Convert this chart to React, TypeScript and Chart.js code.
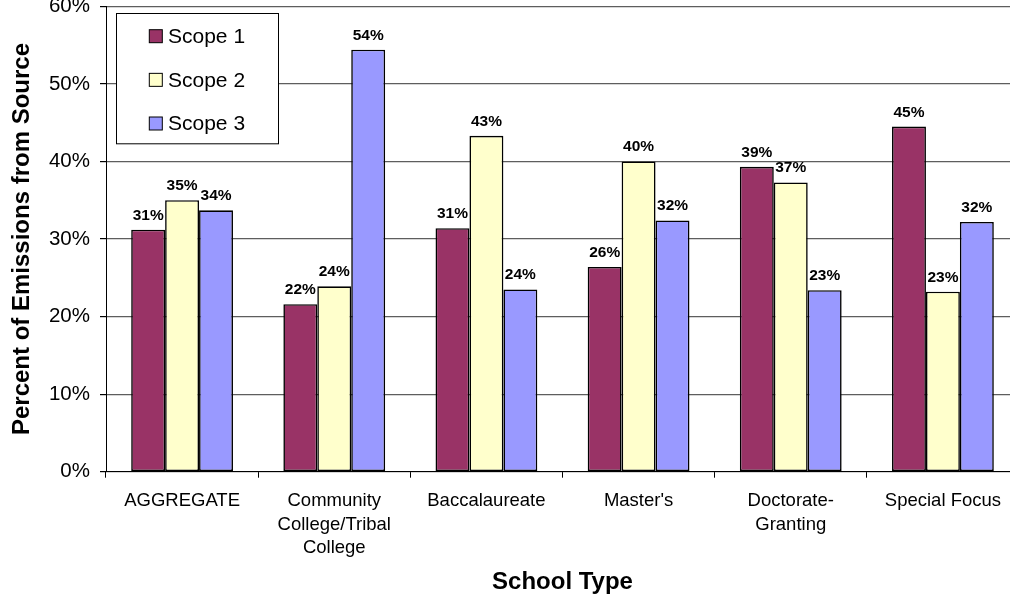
import { useEffect, useRef } from "react";
import { Chart, registerables } from "chart.js";

Chart.register(...registerables);

// Share of emissions by scope for each school type (percent)
const schoolTypes: (string | string[])[] = [
  "AGGREGATE",
  ["Community", "College/Tribal", "College"],
  "Baccalaureate",
  "Master's",
  ["Doctorate-", "Granting"],
  "Special Focus",
];
const scope1 = [31.2, 21.6, 31.4, 26.4, 39.3, 44.5];
const scope2 = [35.0, 23.9, 43.3, 40.0, 37.3, 23.2];
const scope3 = [33.7, 54.4, 23.5, 32.4, 23.4, 32.2];
const seriesNames = ["Scope 1", "Scope 2", "Scope 3"];
const seriesColors = ["#993366", "#FFFFCC", "#9999FF"];
const yMin = 0;
const yMax = 60;
const yStep = 10;

const FONT = "'Liberation Sans', Arial, Helvetica, sans-serif";

// Percent labels above each bar
const barValueLabels = {
  id: "barValueLabels",
  afterDatasetsDraw(chart: any) {
    const { ctx } = chart;
    ctx.save();
    ctx.font = `bold 15.5px ${FONT}`;
    ctx.fillStyle = "#000";
    ctx.textAlign = "center";
    ctx.textBaseline = "alphabetic";
    chart.data.datasets.forEach((ds: any, i: number) => {
      const meta = chart.getDatasetMeta(i);
      meta.data.forEach((bar: any, j: number) => {
        const v = ds.data[j] as number;
        ctx.fillText(`${Math.round(v)}%`, bar.x, bar.y - 10);
      });
    });
    ctx.restore();
  },
};

// Boxed legend inside the plot area, top left
const boxedLegend = {
  id: "boxedLegend",
  afterDraw(chart: any) {
    const { ctx, chartArea } = chart;
    const bx = chartArea.left + 10;
    const by = chartArea.top + 6.4;
    const bw = 162;
    const bh = 130.3;
    ctx.save();
    ctx.fillStyle = "#fff";
    ctx.fillRect(bx, by, bw, bh);
    ctx.strokeStyle = "#000";
    ctx.lineWidth = 1;
    ctx.strokeRect(Math.round(bx) + 0.5, Math.round(by) + 0.5, bw, bh);
    ctx.font = `21px ${FONT}`;
    ctx.textAlign = "left";
    ctx.textBaseline = "middle";
    chart.data.datasets.forEach((ds: any, i: number) => {
      const cy = by + 23.5 + i * 43.65;
      const sx = bx + 33.3;
      ctx.fillStyle = ds.backgroundColor;
      ctx.fillRect(sx, cy - 6.5, 13, 13);
      ctx.strokeStyle = "#000";
      ctx.strokeRect(sx, cy - 6.5, 13, 13);
      ctx.fillStyle = "#000";
      ctx.fillText(ds.label, bx + 52, cy + 1);
    });
    ctx.restore();
  },
};

export default function App() {
  const canvasRef = useRef<HTMLCanvasElement | null>(null);

  useEffect(() => {
    if (!canvasRef.current) return;
    const values = [scope1, scope2, scope3];
    const chart = new Chart(canvasRef.current, {
      type: "bar",
      data: {
        labels: schoolTypes,
        datasets: seriesNames.map((name, i) => ({
          label: name,
          data: values[i],
          backgroundColor: seriesColors[i],
          borderColor: "#000",
          borderWidth: 1.6,
          borderSkipped: false,
          barPercentage: 1,
          categoryPercentage: 0.669,
        })),
      },
      options: {
        responsive: false,
        animation: false,
        devicePixelRatio: 1,
        layout: { padding: { top: 36.3, left: 8, right: 11, bottom: 0 } },
        plugins: {
          legend: { display: false },
          title: { display: false },
          tooltip: { enabled: false },
        },
        scales: {
          x: {
            offset: true,
            grid: {
              display: true,
              offset: true,
              drawOnChartArea: false,
              drawTicks: true,
              tickLength: 6,
              tickColor: "#000",
            },
            border: { display: true, color: "#000", width: 1 },
            ticks: {
              color: "#000",
              padding: 12,
              maxRotation: 0,
              autoSkip: false,
              font: { family: FONT, size: 18.5, lineHeight: "23.3px" as any },
            },
            title: {
              display: true,
              text: "School Type",
              color: "#000",
              font: { family: FONT, size: 24, weight: "bold" },
              padding: { top: 0, bottom: 2.6 },
            },
            afterFit: (scale: any) => {
              scale.height = 127.3;
            },
          },
          y: {
            min: yMin,
            max: yMax,
            ticks: {
              stepSize: yStep,
              color: "#000",
              padding: 10,
              font: { family: FONT, size: 20.5 },
              callback: (v: any) => `${v}%`,
            },
            grid: {
              color: "#5e5e5e",
              lineWidth: 1.2,
              drawTicks: true,
              tickLength: 6,
              tickColor: "#000",
            },
            border: { display: true, color: "#000", width: 1 },
            title: {
              display: true,
              text: "Percent of Emissions from Source",
              color: "#000",
              font: { family: FONT, size: 24, weight: "bold" },
              padding: { top: 0, bottom: 0 },
            },
            afterFit: (scale: any) => {
              scale.width = 98;
            },
          },
        },
      },
      plugins: [barValueLabels, boxedLegend],
    });
    return () => chart.destroy();
  }, []);

  return (
    <div
      style={{
        position: "fixed",
        left: 0,
        top: 0,
        width: 1010,
        height: 599,
        overflow: "hidden",
        background: "#fff",
      }}
    >
      <canvas
        ref={canvasRef}
        width={1030}
        height={629}
        style={{ position: "absolute", left: 0, top: -30, width: 1030, height: 629 }}
      />
    </div>
  );
}
